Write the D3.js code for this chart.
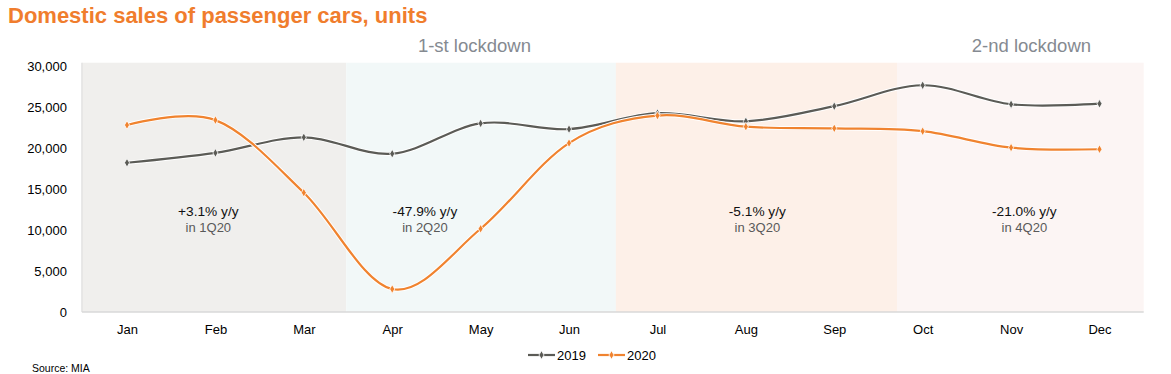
<!DOCTYPE html>
<html>
<head>
<meta charset="utf-8">
<script src="https://cdn.jsdelivr.net/npm/d3@7"></script>
<style>
  body { margin: 0; background: #fff; }
  text { font-family: "Liberation Sans", Arial, sans-serif; }
</style>
</head>
<body>
<div id="chart"></div>
<script>
// data
var months = ["Jan", "Feb", "Mar", "Apr", "May", "Jun", "Jul", "Aug", "Sep", "Oct", "Nov", "Dec"];
var sales2019 = [18200, 19400, 21300, 19300, 23000, 22300, 24250, 23250, 25100, 27650, 25330, 25400];
var sales2020 = [22800, 23400, 14550, 2800, 10150, 20600, 23950, 22600, 22400, 22050, 20050, 19850];
var yTicks = [0, 5000, 10000, 15000, 20000, 25000, 30000];

// quarter shading spans, in month-index units
var quarterSpans = [[-0.51, 2.48], [2.48, 5.53], [5.53, 8.71], [8.71, 11.5]];
var quarterColors = ["#f0efed", "#f2f8f8", "#fdf0e8", "#fcf5f4"];
var quarterNotes = [
  {pos: 0.92, main: "+3.1% y/y", sub: "in 1Q20"},
  {pos: 3.37, main: "-47.9% y/y", sub: "in 2Q20"},
  {pos: 7.13, main: "-5.1% y/y", sub: "in 3Q20"},
  {pos: 10.15, main: "-21.0% y/y", sub: "in 4Q20"}
];
var lockdowns = [{pos: 3.93, label: "1-st lockdown"}, {pos: 10.23, label: "2-nd lockdown"}];

var series = [
  {name: "2019", values: sales2019, color: "#5b5b56"},
  {name: "2020", values: sales2020, color: "#f0832f"}
];

var width = 1171, height = 374;

var svg = d3.select("#chart")
  .append("svg")
  .attr("width", width)
  .attr("height", height);

var x = d3.scaleLinear()
  .domain([0, 11])
  .range([127, 1099.5]);

var y = d3.scaleLinear()
  .domain([0, 30000])
  .range([312, 66]);

// title
svg.append("text")
  .attr("x", 8)
  .attr("y", 23)
  .style("font-size", "22px")
  .style("font-weight", "bold")
  .style("fill", "#f07d2d")
  .text("Domestic sales of passenger cars, units");

// quarter background
svg.append("g")
  .selectAll(null)
  .data(quarterSpans)
  .enter()
  .append("rect")
  .attr("x", function (d) { return x(d[0]); })
  .attr("y", y(30400))
  .attr("width", function (d) { return x(d[1]) - x(d[0]); })
  .attr("height", y(0) - y(30400))
  .style("fill", function (d, i) { return quarterColors[i]; });

// lockdown labels
svg.append("g")
  .selectAll(null)
  .data(lockdowns)
  .enter()
  .append("text")
  .attr("x", function (d) { return x(d.pos); })
  .attr("y", 52)
  .attr("text-anchor", "middle")
  .style("font-size", "18.5px")
  .style("fill", "#858a91")
  .text(function (d) { return d.label; });

// axes lines
svg.append("line")
  .attr("x1", x(-0.51)).attr("x2", x(-0.51))
  .attr("y1", y(30400)).attr("y2", y(0))
  .style("stroke", "#d9d9d9").style("stroke-width", 1);
svg.append("line")
  .attr("x1", x(-0.51)).attr("x2", x(11.5))
  .attr("y1", y(0)).attr("y2", y(0))
  .style("stroke", "#d9d9d9").style("stroke-width", 1.5);

// y axis labels
var yAxis = svg.append("g")
  .attr("transform", "translate(" + (x(-0.51) - 12) + ",0)")
  .call(d3.axisLeft(y).tickValues(yTicks).tickSize(0).tickFormat(d3.format(",")));
yAxis.select(".domain").remove();
yAxis.selectAll("text")
  .style("font-family", "'Liberation Sans', Arial, sans-serif")
  .style("font-size", "13px")
  .style("fill", "#000");

// x axis labels
var xAxis = svg.append("g")
  .attr("transform", "translate(0," + (y(0) + 10) + ")")
  .call(d3.axisBottom(x).tickValues(d3.range(12)).tickSize(0).tickFormat(function (i) { return months[i]; }));
xAxis.select(".domain").remove();
xAxis.selectAll("text")
  .style("font-family", "'Liberation Sans', Arial, sans-serif")
  .style("font-size", "13px")
  .style("fill", "#000");

// quarter notes
var notes = svg.append("g")
  .selectAll(null)
  .data(quarterNotes)
  .enter()
  .append("g");
notes.append("text")
  .attr("x", function (d) { return x(d.pos); })
  .attr("y", 216)
  .attr("text-anchor", "middle")
  .style("font-size", "13.7px")
  .style("fill", "#111")
  .text(function (d) { return d.main; });
notes.append("text")
  .attr("x", function (d) { return x(d.pos); })
  .attr("y", 232)
  .attr("text-anchor", "middle")
  .style("font-size", "13px")
  .style("fill", "#595959")
  .text(function (d) { return d.sub; });

// lines
var line = d3.line()
  .x(function (d, i) { return x(i); })
  .y(function (d) { return y(d); })
  .curve(d3.curveCardinal.tension(0));

var diamond = d3.symbol().type(d3.symbolDiamond).size(22);

series.forEach(function (s) {
  svg.append("path")
    .attr("d", line(s.values))
    .style("fill", "none")
    .style("stroke", "#fff")
    .style("stroke-width", 4);
  svg.append("path")
    .attr("d", line(s.values))
    .style("fill", "none")
    .style("stroke", s.color)
    .style("stroke-width", 2.2);
  svg.append("g")
    .selectAll(null)
    .data(s.values)
    .enter()
    .append("path")
    .attr("d", diamond)
    .attr("transform", function (d, i) { return "translate(" + x(i) + "," + y(d) + ")"; })
    .style("fill", s.color)
    .style("stroke", "#fff")
    .style("stroke-width", 0.8);
});

// legend
var legend = svg.append("g")
  .selectAll(null)
  .data(series)
  .enter()
  .append("g")
  .attr("transform", function (d, i) { return "translate(" + (528 + i * 70) + ",355)"; });
legend.append("line")
  .attr("x1", 0).attr("x2", 27)
  .attr("y1", 0).attr("y2", 0)
  .style("stroke", function (d) { return d.color; })
  .style("stroke-width", 2.2);
legend.append("path")
  .attr("d", diamond)
  .attr("transform", "translate(13.5,0)")
  .style("fill", function (d) { return d.color; })
  .style("stroke", "#fff")
  .style("stroke-width", 0.8);
legend.append("text")
  .attr("x", 29)
  .attr("y", 4.5)
  .style("font-size", "13px")
  .style("fill", "#000")
  .text(function (d) { return d.name; });

// source
svg.append("text")
  .attr("x", 32)
  .attr("y", 372)
  .style("font-size", "10.5px")
  .style("fill", "#000")
  .text("Source: MIA");
</script>
</body>
</html>
